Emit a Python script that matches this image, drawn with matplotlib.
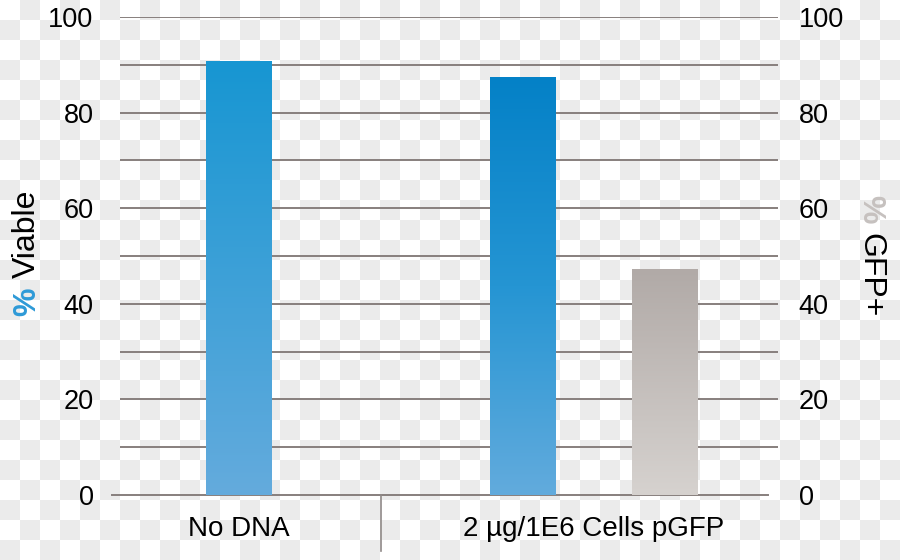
import matplotlib
matplotlib.use("Agg")
import matplotlib.pyplot as plt
from matplotlib.colors import LinearSegmentedColormap
import numpy as np

# data
categories = ["No DNA", "2 µg/1E6 Cells pGFP"]
viable = [90.8, 87.4]          # % Viable, left axis
gfp_pos = [None, 47.2]         # % GFP+, right axis (only for pGFP)
y_ticks = [0, 20, 40, 60, 80, 100]

plt.rcParams["font.family"] = ["Liberation Sans", "DejaVu Sans"]

W, H = 900, 560
fig = plt.figure(figsize=(W / 100, H / 100), dpi=100)
fig.patch.set_facecolor("white")

# transparency-style checkerboard behind everything
yy, xx = np.mgrid[0:H, 0:W]
checker = ((xx // 20 + yy // 20) % 2).astype(float)
bg = np.ones((H, W, 3))
bg[checker == 1] = 0.922
fig.figimage(bg, xo=0, yo=0, zorder=-1, origin="upper")

left, right, bottom, top = 120, 778, 495, 17
ax = fig.add_axes([left / W, (H - bottom) / H, (right - left) / W, (bottom - top) / H])
ax.patch.set_alpha(0)
ax2 = ax.twinx()
ax2.patch.set_alpha(0)

XLIM = (-0.837, 3.803)

grid_col = "#877f7d"
for v in range(10, 101, 10):
    ax.axhline(v, color=grid_col, lw=1.4, zorder=1)
ax.plot([-0.012, 0.985], [0, 0], transform=ax.transAxes, color=grid_col,
        lw=1.4, clip_on=False, zorder=1)
# category separator
ax.plot([1, 1], [0, -0.117], transform=ax.get_xaxis_transform(),
        color="#8f8987", lw=1.2, clip_on=False)

blue1 = LinearSegmentedColormap.from_list("b1", ["#64abdd", "#1796d2"])
blue2 = LinearSegmentedColormap.from_list("b2", ["#62abdd", "#2595d3", "#0481c7"])
grey = LinearSegmentedColormap.from_list("g", ["#d6d2cf", "#b1aaa7"])

grad = np.linspace(0, 1, 256).reshape(-1, 1)
width = 0.46


def gradient_bar(axis, x, h, cmap):
    bar = axis.bar(x, h, width=width, facecolor="none", edgecolor="none", zorder=3)[0]
    im = axis.imshow(grad, cmap=cmap, origin="lower", aspect="auto",
                     extent=(x - width / 2, x + width / 2, 0, h), zorder=3)
    im.set_clip_path(bar)


gradient_bar(ax, 0, viable[0], blue1)
gradient_bar(ax, 2, viable[1], blue2)
gradient_bar(ax2, 3, gfp_pos[1], grey)

for a in (ax, ax2):
    a.set_xlim(*XLIM)
    a.set_ylim(0, 100)
    for s in a.spines.values():
        s.set_visible(False)
    a.set_yticks(y_ticks)
    a.set_yticklabels([str(t) for t in y_ticks], fontsize=19.5)
    a.tick_params(axis="y", length=0)
ax.tick_params(axis="y", pad=19)
ax2.tick_params(axis="y", pad=15)

ax.set_xticks([0, 2.5])
ax.set_xticklabels(categories, fontsize=20)
ax.tick_params(axis="x", length=0, pad=15)

# axis titles with coloured percent sign
pct_l = fig.text(27 / W, (H - 316) / H, "%", rotation=90, fontsize=23,
                 color="#2e9ad7", fontweight="bold", ha="center", va="bottom")
ax.annotate("Viable", xy=(0.5, 1), xycoords=pct_l, xytext=(0, 7),
            textcoords="offset points", rotation=90, fontsize=23,
            ha="center", va="bottom")

pct_r = fig.text(870 / W, (H - 195) / H, "%", rotation=270, fontsize=23,
                 color="#c6c1bf", fontweight="bold", ha="center", va="top")
ax.annotate("GFP+", xy=(0.5, 0), xycoords=pct_r, xytext=(0, -7),
            textcoords="offset points", rotation=270, fontsize=23,
            ha="center", va="top")

fig.savefig("out.png", dpi=100)
